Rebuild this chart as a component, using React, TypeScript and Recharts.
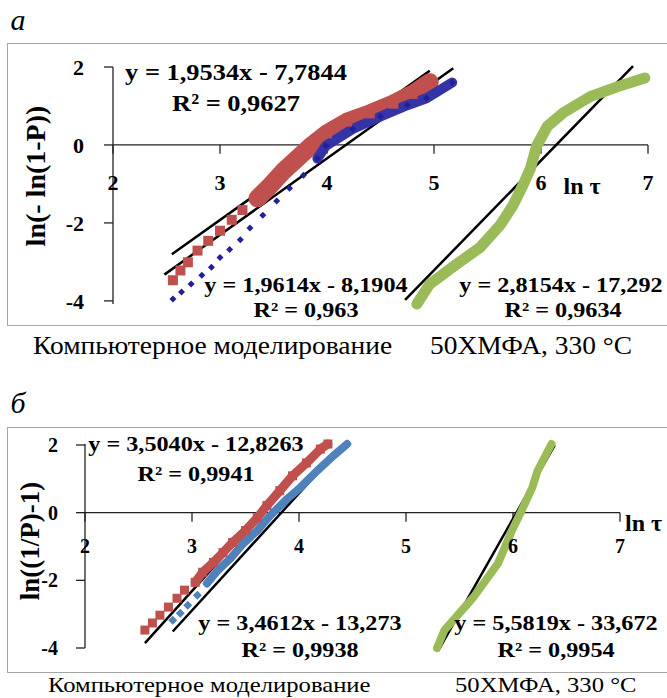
import type { ReactNode } from 'react';
import { ReferenceLine, Scatter, ScatterChart, XAxis, YAxis } from 'recharts';

type Pt = { x: number; y: number };

const SERIF = '"Liberation Serif", "Times New Roman", serif';
const RED = '#c0504d';
const NAVY = '#20209a';
const NAVY_BAND = '#3434a6';
const BLUE = '#4f81bd';
const GREEN = '#9bbb59';

const xTicks = [2, 3, 4, 5, 6, 7];
const yTicks = [-4, -2, 0, 2];

// а: ln(-ln(1-P)) against ln τ
const redA: Pt[] = [
  { x: 2.56, y: -3.47 }, { x: 2.63, y: -3.22 }, { x: 2.7, y: -3.01 }, { x: 2.79, y: -2.71 },
  { x: 2.89, y: -2.46 }, { x: 3.0, y: -2.2 }, { x: 3.11, y: -1.92 }, { x: 3.21, y: -1.67 },
  { x: 3.35, y: -1.37 }, { x: 3.47, y: -1.04 }, { x: 3.59, y: -0.68 }, { x: 3.72, y: -0.35 },
  { x: 3.84, y: -0.05 }, { x: 4.0, y: 0.3 }, { x: 4.19, y: 0.6 }, { x: 4.4, y: 0.81 },
  { x: 4.62, y: 1.06 }, { x: 4.8, y: 1.31 }, { x: 4.96, y: 1.61 },
];
const blueA: Pt[] = [
  { x: 2.56, y: -3.95 }, { x: 2.64, y: -3.77 }, { x: 2.73, y: -3.57 }, { x: 2.83, y: -3.34 },
  { x: 2.92, y: -3.14 }, { x: 3.0, y: -2.89 }, { x: 3.09, y: -2.68 }, { x: 3.19, y: -2.43 },
  { x: 3.28, y: -2.13 }, { x: 3.4, y: -1.8 }, { x: 3.53, y: -1.44 }, { x: 3.65, y: -1.11 },
  { x: 3.78, y: -0.78 }, { x: 3.91, y: -0.35 }, { x: 3.99, y: -0.02 }, { x: 4.24, y: 0.41 },
  { x: 4.5, y: 0.73 }, { x: 4.75, y: 1.02 }, { x: 4.93, y: 1.2 }, { x: 5.17, y: 1.6 },
];
const greenA: Pt[] = [
  { x: 4.84, y: -4.08 }, { x: 4.96, y: -3.57 }, { x: 5.21, y: -3.06 }, { x: 5.43, y: -2.63 },
  { x: 5.62, y: -2.05 }, { x: 5.74, y: -1.54 }, { x: 5.83, y: -1.04 }, { x: 5.9, y: -0.61 },
  { x: 5.96, y: -0.02 }, { x: 6.06, y: 0.48 }, { x: 6.21, y: 0.83 }, { x: 6.46, y: 1.24 },
  { x: 6.71, y: 1.49 }, { x: 6.97, y: 1.72 },
];
const slopesA = [1.9534, 1.9614, 2.8154];
const interceptsA = [-7.7844, -8.1904, -17.292];
const fromA = [2.55, 2.48, 4.73];
const toA = [4.96, 5.18, 6.86];
const eqA = ['y = 1,9534x - 7,7844', 'y = 1,9614x - 8,1904', 'y = 2,8154x - 17,292'];
const r2A = ['R² = 0,9627', 'R² = 0,963', 'R² = 0,9634'];

// б: ln((1/P)-1) against ln τ
const redB: Pt[] = [
  { x: 2.56, y: -3.47 }, { x: 2.63, y: -3.26 }, { x: 2.7, y: -3.03 }, { x: 2.78, y: -2.79 },
  { x: 2.86, y: -2.53 }, { x: 2.93, y: -2.29 }, { x: 3.03, y: -2.06 }, { x: 3.1, y: -1.76 },
  { x: 3.2, y: -1.47 }, { x: 3.29, y: -1.18 }, { x: 3.38, y: -0.88 }, { x: 3.5, y: -0.53 },
  { x: 3.61, y: -0.15 }, { x: 3.7, y: 0.21 }, { x: 3.82, y: 0.65 }, { x: 3.94, y: 1.09 },
  { x: 4.07, y: 1.47 }, { x: 4.2, y: 1.88 }, { x: 4.27, y: 2.03 },
];
const blueB: Pt[] = [
  { x: 2.82, y: -3.18 }, { x: 2.89, y: -2.97 }, { x: 2.96, y: -2.74 }, { x: 3.05, y: -2.44 },
  { x: 3.14, y: -2.09 }, { x: 3.24, y: -1.71 }, { x: 3.36, y: -1.35 }, { x: 3.48, y: -0.91 },
  { x: 3.61, y: -0.53 }, { x: 3.73, y: -0.09 }, { x: 3.87, y: 0.35 }, { x: 4.01, y: 0.74 },
  { x: 4.17, y: 1.24 }, { x: 4.32, y: 1.68 }, { x: 4.45, y: 2.03 },
];
const greenB: Pt[] = [
  { x: 5.29, y: -4.0 }, { x: 5.36, y: -3.47 }, { x: 5.63, y: -2.5 }, { x: 5.86, y: -1.5 },
  { x: 5.99, y: -0.53 }, { x: 6.08, y: 0.06 }, { x: 6.18, y: 0.74 }, { x: 6.23, y: 1.24 },
  { x: 6.36, y: 2.03 },
];
const slopesB = [3.504, 3.4612, 5.5819];
const interceptsB = [-12.8263, -13.273, -33.672];
const fromB = [2.56, 2.82, 5.3];
const toB = [4.23, 4.41, 6.39];
const eqB = ['y = 3,5040x - 12,8263', 'y = 3,4612x - 13,273', 'y = 5,5819x - 33,672'];
const r2B = ['R² = 0,9941', 'R² = 0,9938', 'R² = 0,9954'];

const square = (fill: string, s: number) => (p: any) => (
  <rect x={p.cx - s / 2} y={p.cy - s / 2} width={s} height={s} fill={fill} />
);
const diamond = (fill: string, s: number) => (p: any) => (
  <path
    d={`M${p.cx},${p.cy - s / 2}L${p.cx + s / 2},${p.cy}L${p.cx},${p.cy + s / 2}L${p.cx - s / 2},${p.cy}Z`}
    fill={fill}
  />
);
const nothing = () => <g />;

type Series = {
  data: Pt[];
  color: string;
  bandColor?: string;
  band: number;
  bandFrom: number;
  marker?: (p: any) => ReactNode;
};

type PlotProps = {
  top: number;
  width: number;
  height: number;
  margin: { top: number; right: number; bottom: number; left: number };
  fontSize: number;
  tickMargin: number;
  labelOffset: number;
  series: Series[];
  slopes: number[];
  intercepts: number[];
  from: number[];
  to: number[];
};

function Plot(p: PlotProps) {
  const plotH = p.height - p.margin.top - p.margin.bottom;
  const tickLen = 9 / (plotH / 6);
  const tickFont = { fill: '#000', fontSize: p.fontSize, fontWeight: 700, fontFamily: SERIF };
  return (
    <div style={{ position: 'absolute', left: 0, top: p.top }}>
      <ScatterChart width={p.width} height={p.height} margin={p.margin}>
        <XAxis type="number" dataKey="x" domain={[2, 7]} ticks={xTicks} hide />
        <YAxis
          type="number"
          dataKey="y"
          domain={[-4, 2]}
          ticks={yTicks}
          width={40}
          tickSize={9}
          tickMargin={p.tickMargin}
          tick={tickFont}
          axisLine={{ stroke: '#222', strokeWidth: 1.3 }}
          tickLine={{ stroke: '#222', strokeWidth: 1.3 }}
        />
        {p.series.map((s, i) => (
          <Scatter
            key={`band${i}`}
            data={s.data.slice(s.bandFrom)}
            fill={s.color}
            line={{
              stroke: s.bandColor ?? s.color,
              strokeWidth: s.band,
              strokeLinejoin: 'round',
              strokeLinecap: 'round',
            }}
            shape={nothing}
            isAnimationActive={false}
          />
        ))}
        {p.series
          .filter((s) => s.marker)
          .map((s, i) => (
            <Scatter key={`pts${i}`} data={s.data} fill={s.color} shape={s.marker as any} isAnimationActive={false} />
          ))}
        <ReferenceLine y={0} stroke="#222" strokeWidth={1.3} />
        {xTicks.map((t) => (
          <ReferenceLine
            key={`t${t}`}
            segment={[
              { x: t, y: 0 },
              { x: t, y: -tickLen },
            ]}
            stroke="#222"
            strokeWidth={1.3}
            ifOverflow="visible"
            label={{ value: String(t), position: 'bottom', offset: p.labelOffset, ...tickFont }}
          />
        ))}
        {p.slopes.map((k, i) => (
          <ReferenceLine
            key={`trend${i}`}
            segment={[
              { x: p.from[i], y: k * p.from[i] + p.intercepts[i] },
              { x: p.to[i], y: k * p.to[i] + p.intercepts[i] },
            ]}
            stroke="#000"
            strokeWidth={2.5}
            ifOverflow="visible"
          />
        ))}
      </ScatterChart>
    </div>
  );
}

type TxtProps = {
  x: number;
  y: number;
  size: number;
  bold?: boolean;
  italic?: boolean;
  start?: boolean;
  rotate?: boolean;
  sx?: number;
  children: ReactNode;
};

function Txt({ x, y, size, bold, italic, start, rotate, sx = 1.1, children }: TxtProps) {
  const tf = rotate
    ? 'translate(-50%, -50%) rotate(-90deg)'
    : start
      ? `translateY(-50%) scaleX(${sx})`
      : `translate(-50%, -50%) scaleX(${sx})`;
  return (
    <div
      style={{
        position: 'absolute',
        left: x,
        top: y,
        fontSize: size,
        lineHeight: 1,
        fontWeight: bold ? 700 : 400,
        fontStyle: italic ? 'italic' : 'normal',
        whiteSpace: 'nowrap',
        transform: tf,
        transformOrigin: start ? 'left center' : 'center',
        color: '#000',
      }}
    >
      {children}
    </div>
  );
}

export default function App() {
  return (
    <div
      style={{
        position: 'absolute',
        left: 0,
        top: 0,
        width: 667,
        height: 698,
        overflow: 'hidden',
        background: '#fff',
        fontFamily: SERIF,
      }}
    >
      <div style={{ position: 'absolute', left: 7, top: 43, width: 700, height: 281, border: '1px solid #a6a6a6' }} />
      <div style={{ position: 'absolute', left: 7, top: 427, width: 700, height: 244, border: '1px solid #a6a6a6' }} />

      <Plot
        top={0}
        width={667}
        height={330}
        margin={{ top: 67, right: 19, bottom: 26, left: 73 }}
        fontSize={22}
        tickMargin={20}
        labelOffset={21}
        series={[
          { data: redA, color: RED, band: 18, bandFrom: 8, marker: square(RED, 10) },
          { data: blueA, color: NAVY, bandColor: NAVY_BAND, band: 10, bandFrom: 13, marker: diamond(NAVY, 7) },
          { data: greenA, color: GREEN, band: 11, bandFrom: 0 },
        ]}
        slopes={slopesA}
        intercepts={interceptsA}
        from={fromA}
        to={toA}
      />
      <Plot
        top={380}
        width={667}
        height={300}
        margin={{ top: 64, right: 47, bottom: 32, left: 45 }}
        fontSize={20}
        tickMargin={18}
        labelOffset={17}
        series={[
          { data: redB, color: RED, band: 9, bandFrom: 6, marker: square(RED, 9) },
          { data: blueB, color: BLUE, band: 8, bandFrom: 4, marker: diamond(BLUE, 9) },
          { data: greenB, color: GREEN, band: 8, bandFrom: 0 },
        ]}
        slopes={slopesB}
        intercepts={interceptsB}
        from={fromB}
        to={toB}
      />

      <Txt x={18} y={20} size={30} italic sx={1}>а</Txt>
      <Txt x={236} y={72} size={24} bold>{eqA[0]}</Txt>
      <Txt x={236} y={103} size={24} bold>{r2A[0]}</Txt>
      <Txt x={306} y={285} size={22} bold>{eqA[1]}</Txt>
      <Txt x={306} y={310} size={22} bold>{r2A[1]}</Txt>
      <Txt x={561} y={285} size={22} bold>{eqA[2]}</Txt>
      <Txt x={563} y={310} size={22} bold>{r2A[2]}</Txt>
      <Txt x={582} y={186} size={24} bold sx={1}>ln τ</Txt>
      <Txt x={36} y={176} size={28} bold rotate>ln(- ln(1-P))</Txt>
      <Txt x={33} y={346} size={24.5} start sx={1.12}>Компьютерное моделирование</Txt>
      <Txt x={430} y={346} size={24.5} start sx={1.12}>50ХМФА, 330 °C</Txt>

      <Txt x={18} y={403} size={30} italic sx={1}>б</Txt>
      <Txt x={196} y={444} size={22} bold>{eqB[0]}</Txt>
      <Txt x={196} y={474} size={22} bold>{r2B[0]}</Txt>
      <Txt x={300} y={623} size={22} bold>{eqB[1]}</Txt>
      <Txt x={300} y={650} size={22} bold>{r2B[1]}</Txt>
      <Txt x={556} y={623} size={22} bold>{eqB[2]}</Txt>
      <Txt x={556} y={650} size={22} bold>{r2B[2]}</Txt>
      <Txt x={625} y={523} size={24} bold start sx={1}>ln τ</Txt>
      <Txt x={30} y={541} size={27} bold rotate>ln((1/P)-1)</Txt>
      <Txt x={48} y={685} size={22} start sx={1.12}>Компьютерное моделирование</Txt>
      <Txt x={455} y={685} size={22} start sx={1.12}>50ХМФА, 330 °C</Txt>
    </div>
  );
}
